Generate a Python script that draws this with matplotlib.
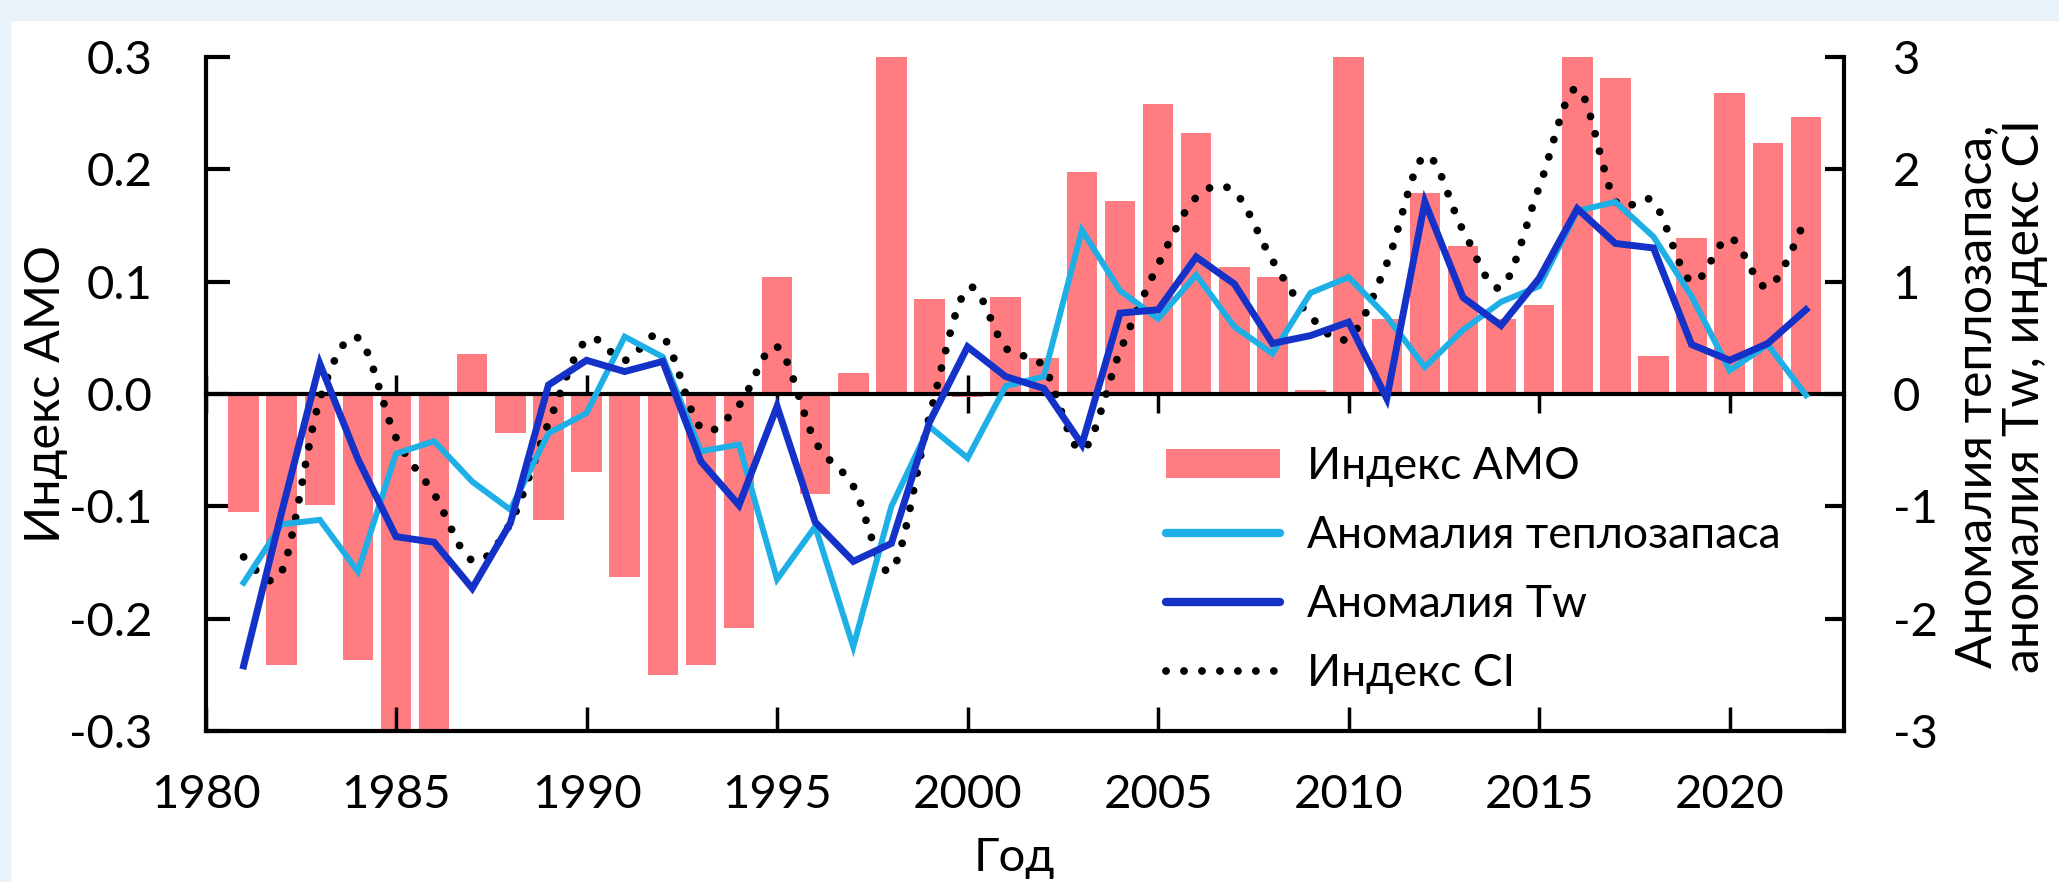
import matplotlib
matplotlib.use("Agg")
import matplotlib.pyplot as plt
from matplotlib.path import Path
from matplotlib.patches import PathPatch, Patch, Rectangle
from matplotlib.lines import Line2D
from matplotlib.ticker import FuncFormatter

plt.rcParams['font.family'] = ['Lato', 'DejaVu Sans']
plt.rcParams['axes.unicode_minus'] = False

# data, 1981-2022
years = list(range(1981, 2023))

amo_index = [-0.105, -0.241, -0.099, -0.237, -0.31, -0.32, 0.036, -0.035, -0.112, -0.069,
             -0.163, -0.250, -0.241, -0.208, 0.104, -0.089, 0.019, 0.31, 0.085, -0.003,
             0.086, 0.032, 0.198, 0.172, 0.258, 0.232, 0.113, 0.104, 0.004, 0.31,
             0.067, 0.179, 0.132, 0.067, 0.079, 0.31, 0.281, 0.034, 0.139, 0.268,
             0.223, 0.247]

heat_anomaly = [-1.68, -1.16, -1.12, -1.58, -0.53, -0.42, -0.78, -1.03, -0.35, -0.17,
                0.51, 0.33, -0.51, -0.45, -1.65, -1.18, -2.25, -1.00, -0.29, -0.57,
                0.07, 0.155, 1.46, 0.92, 0.67, 1.06, 0.60, 0.36, 0.90, 1.04,
                0.69, 0.24, 0.57, 0.82, 0.96, 1.63, 1.71, 1.40, 0.87, 0.21,
                0.44, -0.01]

tw_anomaly = [-2.42, -1.05, 0.27, -0.58, -1.27, -1.32, -1.73, -1.15, 0.08, 0.30,
              0.20, 0.29, -0.60, -0.99, -0.11, -1.14, -1.49, -1.33, -0.25, 0.42,
              0.155, 0.05, -0.45, 0.72, 0.75, 1.22, 0.98, 0.45, 0.52, 0.64,
              -0.04, 1.71, 0.86, 0.61, 1.03, 1.65, 1.34, 1.30, 0.44, 0.30,
              0.45, 0.75]

ci_index = [-1.45, -1.58, -0.05, 0.50, -0.39, -0.89, -1.48, -1.15, -0.26, 0.48,
            0.30, 0.51, -0.30, -0.10, 0.42, -0.42, -0.82, -1.57, -0.20, 0.94,
            0.41, 0.24, -0.50, 0.38, 1.15, 1.75, 1.80, 1.19, 0.69, 0.50,
            1.16, 2.12, 1.46, 0.95, 1.84, 2.72, 1.72, 1.71, 1.00, 1.39,
            0.95, 1.56]

bar_color = '#FF7C80'
heat_color = '#1DAFE6'
tw_color = '#1432C8'
tick_fs = 34
leg_fs = 32
dotted = (0, (0.01, 2.3))


def smooth_path(x, y):
    # excel-like "smoothed line": cubic bezier segments through the data points
    n = len(x)
    verts = [(x[0], y[0])]
    codes = [Path.MOVETO]
    for i in range(n - 1):
        xp, yp = (x[i - 1], y[i - 1]) if i > 0 else (x[i], y[i])
        xn, yn = (x[i + 2], y[i + 2]) if i + 2 < n else (x[i + 1], y[i + 1])
        c1 = (x[i] + (x[i + 1] - xp) / 6, y[i] + (y[i + 1] - yp) / 6)
        c2 = (x[i + 1] - (xn - x[i]) / 6, y[i + 1] - (yn - y[i]) / 6)
        verts += [c1, c2, (x[i + 1], y[i + 1])]
        codes += [Path.CURVE4] * 3
    return Path(verts, codes)


fig = plt.figure(figsize=(20.59, 8.82), dpi=100)
fig.patch.set_facecolor('white')
# faint slide background strips along the top and left edges
fig.patches.append(Rectangle((0, 1 - 20 / 882), 1, 20 / 882, transform=fig.transFigure,
                             color='#EAF2F9', zorder=0))
fig.patches.append(Rectangle((0, 0), 10 / 2059, 1, transform=fig.transFigure,
                             color='#EAF2F9', zorder=0))

ax = fig.add_axes([205.5 / 2059, 1 - 731 / 882, (1844 - 205.5) / 2059, (731 - 57) / 882])

# AMO bars on the left axis
ax.bar(years, amo_index, width=0.8, color=bar_color, zorder=2)
ax.set_xlim(1980, 2023)
ax.set_ylim(-0.3, 0.3)
ax.set_yticks([-0.3, -0.2, -0.1, 0.0, 0.1, 0.2, 0.3])
ax.yaxis.set_major_formatter(FuncFormatter(lambda v, p: f'{v:.1f}'.replace('-0.0', '0.0')))
ax.set_xticks(range(1980, 2021, 5))
ax.spines['bottom'].set_position(('data', 0))
ax.spines['bottom'].set_linewidth(3)
ax.spines['bottom'].set_zorder(3)
ax.spines['left'].set_linewidth(3)
ax.spines['top'].set_visible(False)
ax.spines['right'].set_visible(False)
ax.tick_params(axis='x', direction='inout', length=28, width=2.5, labelbottom=False)
ax.tick_params(axis='y', direction='in', length=17, width=3, pad=38, labelsize=tick_fs)

# lines on the right axis
ax2 = ax.twinx()
ax2.xaxis.set_visible(True)
ax2.xaxis.tick_bottom()
ax2.set_ylim(-3, 3)
ax2.set_yticks(range(-3, 4))
ax2.yaxis.set_major_formatter(FuncFormatter(lambda v, p: f'{int(round(v))}'))
for s in ['top', 'left']:
    ax2.spines[s].set_visible(False)
ax2.spines['bottom'].set_linewidth(3)
ax2.spines['right'].set_linewidth(3)
ax2.tick_params(axis='x', direction='in', length=17, width=2.5, pad=31, labelsize=tick_fs)
ax2.tick_params(axis='y', direction='in', length=14, width=3, pad=35, labelsize=tick_fs)

ax2.plot(years, heat_anomaly, color=heat_color, lw=4.3, solid_joinstyle='miter')
ax2.plot(years, tw_anomaly, color=tw_color, lw=5.0, solid_joinstyle='miter')
ci = PathPatch(smooth_path(years, ci_index), facecolor='none', edgecolor='black',
               lw=5.6, linestyle=dotted, capstyle='round')
ax2.add_patch(ci)

handles = [
    Patch(facecolor=bar_color),
    Line2D([], [], color=heat_color, lw=6, solid_capstyle='round'),
    Line2D([], [], color=tw_color, lw=6, solid_capstyle='round'),
    Line2D([], [], color='black', lw=5.6, linestyle=dotted, dash_capstyle='round'),
]
labels = ['Индекс АМО', 'Аномалия теплозапаса', 'Аномалия Tw', 'Индекс CI']
ax2.legend(handles, labels, loc='upper left', bbox_to_anchor=(1166 / 2059, 1 - 446 / 882),
           bbox_transform=fig.transFigure, frameon=False, fontsize=leg_fs,
           handlelength=2.57, handleheight=0.65, handletextpad=0.6, labelspacing=0.63,
           borderpad=0, borderaxespad=0)

fig.text(46 / 2059, 1 - 394 / 882, 'Индекс АМО', rotation=90, ha='center', va='center', fontsize=35)
fig.text(2001 / 2059, 1 - 396 / 882, 'Аномалия теплозапаса,\nаномалия Tw, индекс CI',
         rotation=90, ha='center', va='center', fontsize=36, linespacing=1.07,
         multialignment='center')
fig.text(1014 / 2059, 1 - 858 / 882, 'Год', ha='center', va='center', fontsize=34)

fig.savefig('out.png', dpi=100)
